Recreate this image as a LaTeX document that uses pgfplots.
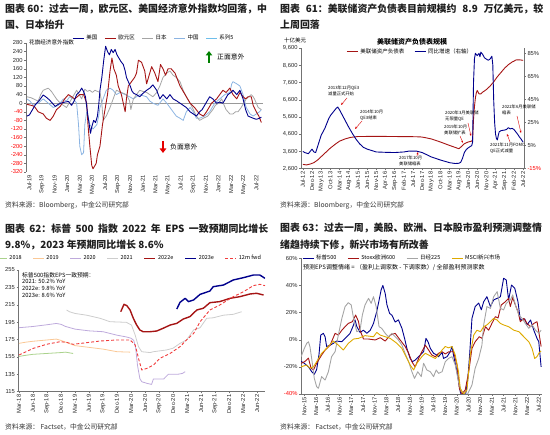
\documentclass[border=0pt]{standalone}
\usepackage{fontspec}
\setmainfont{Liberation Sans}
\newfontfamily\cjk{Noto Sans CJK SC}
\usepackage{pgfplots}
\pgfplotsset{compat=1.18}
\usetikzlibrary{arrows.meta}

\definecolor{cnavy}{RGB}{0,0,140}
\definecolor{cred}{RGB}{165,20,20}
\definecolor{cgray}{RGB}{165,165,165}
\definecolor{clblue}{RGB}{140,180,226}
\definecolor{csky}{RGB}{110,190,235}
\definecolor{c18}{RGB}{170,210,140}
\definecolor{c19}{RGB}{250,200,150}
\definecolor{c20}{RGB}{190,170,220}
\definecolor{c21}{RGB}{205,205,205}
\definecolor{cfwd}{RGB}{240,60,60}
\definecolor{cgold}{RGB}{222,170,0}
\definecolor{ctitle}{RGB}{30,30,30}

\pgfplotsset{
  base/.style={
    scale only axis, clip=true,
    axis line style={draw=black!55, line width=0.4pt},
    tick style={black!55, line width=0.4pt},
    major tick length=1.8pt,
    tick align=outside,
    tick label style={font=\fontsize{5.8}{6}\selectfont, text=black!85},
    xticklabel style={rotate=90, anchor=east, inner sep=1pt},
    yticklabel style={inner sep=1.5pt},
    /pgf/number format/assume math mode=true,
    axis x line*=bottom, axis y line*=left,
    legend style={draw=none, fill=none, font=\cjk\fontsize{5.5}{6}\selectfont, inner sep=0pt},
    legend image code/.code={\draw[##1] (0pt,0pt) -- (11pt,0pt);},
    legend cell align=left,
    every axis plot/.append style={line join=round},
  }
}

\begin{document}
\begin{tikzpicture}
\useasboundingbox (0pt,0pt) rectangle (550pt,435pt);

\begin{scope}[x=1pt,y=1pt]
% ---------------- titles ----------------
\begin{scope}[every node/.style={anchor=west, inner sep=0pt, text=ctitle, font=\cjk\bfseries\fontsize{9.9}{10}\selectfont}]
\node at (5,426.5) {图表 60：过去一周，欧元区、美国经济意外指数均回落，中};
\node at (5,410) {国、日本抬升};
\node at (280,426.5) {\makebox[263pt][s]{图表 61：美联储资产负债表目前规模约 8.9 万亿美元，较}};
\node at (280,410) {上周回落};
\node at (5,206.7) {\makebox[263pt][s]{图表 62：标普 500 指数 2022 年 EPS 一致预期同比增长}};
\node at (5,190) {9.8\%，2023 年预期同比增长 8.6\%};
\node at (280,206.7) {图表 63：过去一周，美股、欧洲、日本股市盈利预测调整情};
\node at (280,190) {绪趋持续下修，新兴市场有所改善};
\end{scope}
\begin{scope}[every node/.style={anchor=west, inner sep=0pt, text=black!80, font=\cjk\fontsize{6.8}{7}\selectfont}]
\node at (5,230) {资料来源：Bloomberg，中金公司研究部};
\node at (280,230) {资料来源：Bloomberg，中金公司研究部};
\node at (5,8) {资料来源： Factset，中金公司研究部};
\node at (280,8) {资料来源： Factset，中金公司研究部};
\end{scope}
\end{scope}

% ---------------- Panel 1 ----------------
\begin{axis}[base, at={(26pt,392pt)}, anchor=north west, width=237pt, height=129pt,
  xmin=-0.53, xmax=37.06, ymin=-320, ymax=280,
  x axis line style={draw=none}, xtick style={draw=none},
  ytick={-320,-280,...,280},
  yticklabels={\textcolor{red}{-320},\textcolor{red}{-280},\textcolor{red}{-240},\textcolor{red}{-200},\textcolor{red}{-160},\textcolor{red}{-120},\textcolor{red}{-80},\textcolor{red}{-40},0,40,80,120,160,200,240,280},
  xtick={0,2,...,36},
  xticklabels={Jul-19,Sep-19,Nov-19,Jan-20,Mar-20,May-20,Jul-20,Sep-20,Nov-20,Jan-21,Mar-21,May-21,Jul-21,Sep-21,Nov-21,Jan-22,Mar-22,May-22,Jul-22},
  legend columns=5, legend style={at={(0.54,1.039)}, anchor=center, /tikz/every even column/.append style={column sep=5pt}},
]
\addplot[black!40, line width=0.5pt, forget plot] coordinates {(-0.53,0) (37.06,0)};
\addplot[clblue, line width=0.8pt, forget plot] coordinates {(-0.4,20) (0.1,10) (0.6,-10) (1.4,0) (2.2,20) (3,0) (3.8,-20) (4.6,-10) (5.4,20) (5.9,10) (6.4,30) (7,20) (7.5,0) (7.8,-100) (8,-200) (8.3,-240) (8.6,-230) (8.8,-100) (9.1,-40) (9.3,-60) (9.6,-100) (10.1,-120) (10.7,-100) (11,-60) (11.2,-20) (11.7,20) (12.2,60) (12.8,70) (13.3,60) (13.8,40) (14.4,50) (15.2,40) (15.9,30) (16.5,20) (17,30) (17.5,40) (18,35) (18.6,30) (19.1,10) (19.6,0) (20.4,-10) (20.8,5) (21.2,20) (21.8,0) (22.3,-20) (22.8,-40) (23.3,-60) (23.9,-70) (24.4,-80) (24.9,-40) (25.5,-20) (26,-40) (26.5,-70) (27,-70) (27.8,-60) (28.6,-40) (29.4,0) (30.2,20) (31,40) (31.8,50) (32.1,90) (32.3,100) (32.6,95) (32.9,90) (33.4,80) (33.9,40) (34.4,-20) (35,-50) (35.5,-60) (36,-50) (36.5,-40) (36.8,-30)};
\addplot[cgray, line width=0.8pt, forget plot] coordinates {(-0.4,30) (0.3,25) (1,15) (1.4,10) (1.8,40) (2.2,60) (3,70) (3.5,55) (4.3,20) (4.9,0) (5.4,-10) (5.9,-20) (6.3,0) (6.7,20) (7.1,40) (7.5,60) (7.9,40) (8.3,20) (8.8,65) (9.2,55) (9.6,60) (10,50) (10.4,60) (10.8,55) (11.2,50) (11.5,0) (11.7,-80) (12.2,-60) (12.8,-20) (13.3,20) (13.8,60) (14.2,55) (14.6,50) (15,45) (15.4,40) (15.9,10) (16.1,-30) (16.5,20) (17,40) (17.5,60) (18,55) (18.6,50) (19.1,40) (19.6,30) (20.2,50) (20.7,80) (21.2,120) (21.8,140) (22.3,150) (22.8,130) (23.3,120) (23.9,100) (24.4,60) (24.9,30) (25.5,0) (26,-30) (26.5,-60) (27,-80) (27.6,-70) (28.3,-60) (29.1,-30) (29.5,-10) (30,0) (30.5,20) (30.9,-10) (31.2,-30) (31.8,-50) (32.3,-50) (32.7,-40) (33.1,-40) (33.6,-20) (34,0) (34.4,20) (34.8,30) (35.2,40) (35.5,30) (35.7,20) (36.3,-20) (36.8,-30)};
\addplot[cred, line width=0.9pt, forget plot] coordinates {(-0.4,-5) (0.3,-10) (0.8,-15) (1.4,-40) (2.2,-50) (2.7,-70) (3.3,-80) (3.8,-60) (4.3,-30) (4.9,-15) (5.6,20) (6.2,40) (6.7,30) (7.2,20) (8,40) (8.6,40) (9.1,0) (9.3,-100) (9.6,-200) (9.9,-290) (10.1,-305) (10.4,-290) (10.6,-280) (10.8,-240) (11.2,-200) (11.6,-100) (12,-30) (12.4,40) (12.8,150) (13.1,210) (13.4,160) (13.8,130) (14.1,80) (14.6,40) (14.9,0) (15.2,-40) (15.4,20) (15.7,80) (16.2,100) (16.7,120) (17,140) (17.3,200) (17.8,190) (18.3,150) (18.6,90) (18.9,120) (19.4,170) (19.9,140) (20.4,100) (20.8,180) (21.2,160) (21.6,130) (22,160) (22.5,160) (23.1,140) (23.5,110) (23.9,80) (24.3,60) (24.7,40) (25.1,20) (25.5,0) (26.2,-20) (27,-50) (27.6,-60) (28.1,-40) (28.5,-20) (28.9,0) (29.7,20) (30.2,40) (30.7,60) (31.2,50) (31.8,70) (32.3,40) (32.9,20) (33.4,50) (33.9,30) (34.3,20) (34.7,30) (35.2,30) (35.5,-10) (36,-40) (36.4,-60) (36.8,-90)};
\addplot[cnavy, line width=0.9pt, forget plot] coordinates {(-0.4,-60) (0,-55) (0.5,-30) (1,-5) (1.5,10) (2.2,38) (2.6,30) (3.2,15) (3.8,-5) (4.1,-15) (4.6,-5) (5,0) (5.6,5) (6.2,8) (6.7,-10) (7.1,10) (7.5,40) (8,55) (8.3,70) (8.6,55) (8.9,30) (9.2,-40) (9.5,-100) (9.7,-140) (9.9,-110) (10.2,-80) (10.5,-90) (10.8,-60) (11,-10) (11.2,60) (11.5,120) (11.8,200) (12.1,265) (12.4,240) (12.7,225) (13,250) (13.3,235) (13.6,250) (13.9,225) (14.2,210) (14.5,195) (14.9,180) (15.2,150) (15.4,120) (15.7,100) (16,80) (16.3,55) (16.6,45) (17,40) (17.5,30) (18,45) (18.6,60) (19.1,70) (19.6,85) (20.2,60) (20.7,20) (21.2,40) (21.8,20) (22.3,40) (22.8,20) (23.4,10) (23.9,0) (24.4,-10) (24.9,-20) (25.5,-40) (26,-50) (26.5,-60) (27,-40) (27.4,-30) (27.8,-10) (28.2,10) (28.6,30) (29.1,20) (29.7,0) (30.2,5) (30.7,0) (31.1,20) (31.5,40) (32,50) (32.3,60) (32.9,40) (33.4,60) (33.9,20) (34.3,-30) (34.7,-60) (35.1,-65) (35.5,-70) (36,-75) (36.5,-70) (36.8,-65)};
\addlegendimage{cnavy, line width=0.9pt}\addlegendentry{美国}
\addlegendimage{cred, line width=0.9pt}\addlegendentry{欧元区}
\addlegendimage{cgray, line width=0.9pt}\addlegendentry{日本}
\addlegendimage{clblue, line width=0.9pt}\addlegendentry{中国}
\addlegendimage{csky, line width=0.9pt}\addlegendentry{系列5}
\end{axis}

% ---------------- Panel 2 ----------------
\begin{axis}[base, at={(301pt,386.7pt)}, anchor=north west, width=223pt, height=120.4pt,
  xmin=-1, xmax=120.5, ymin=2600, ymax=9600,
  ytick={2600,3600,...,9600},
  yticklabels={{2,600},{3,600},{4,600},{5,600},{6,600},{7,600},{8,600},{9,600}},
  xtick={0,5,...,120},
  xticklabels={Jul-12,Dec-12,May-13,Oct-13,Mar-14,Aug-14,Jan-15,Jun-15,Nov-15,Apr-16,Sep-16,Feb-17,Jul-17,Dec-17,May-18,Oct-18,Mar-19,Aug-19,Jan-20,Jun-20,Nov-20,Apr-21,Sep-21,Feb-22,Jul-22},
]
\addplot[cred, line width=0.9pt] coordinates {(0,2850) (2,2820) (4,2870) (6,2950) (8,3100) (10,3300) (12,3500) (15,3800) (18,4050) (20,4200) (23,4330) (26,4420) (30,4470) (40,4480) (50,4470) (60,4460) (64,4450) (66,4420) (70,4330) (75,4150) (80,3950) (84,3800) (85,3760) (86,3850) (88,4050) (90,4150) (92,4200) (92.5,4300) (93,5500) (93.5,6200) (94,6700) (94.5,7000) (95,7150) (96,6950) (97,6950) (98,7050) (100,7200) (102,7400) (104,7650) (106,7950) (108,8200) (110,8450) (112,8650) (114,8800) (115,8850) (116,8920) (118,8930) (120,8900)};
\end{axis}
\begin{axis}[base, at={(301pt,386.7pt)}, anchor=north west, width=223pt, height=120.4pt,
  xmin=-1, xmax=120.5, ymin=-15, ymax=89.35,
  axis x line=none, axis y line*=right,
  ytick={-15,5,...,85},
  yticklabels={\textcolor{red}{-15\%},5\%,25\%,45\%,65\%,85\%},
  legend columns=2, legend style={at={(0.49,0.97)}, anchor=center, /tikz/every even column/.append style={column sep=8pt}},
]
\addlegendimage{cred, line width=0.9pt}\addlegendentry{美联储资产负债表}
\addplot[cnavy, line width=0.9pt] coordinates {(0,0) (1,-1) (2,-1.5) (3,-2) (4,0) (5,2) (6,-0.5) (7,-1) (8,4) (9,9) (10,14) (11,17) (12,20) (13,24) (14,28) (15,31) (16,33) (17,35) (18,37) (19,38.5) (20,36) (21,33) (23,27) (25,21) (27,15.5) (29,10.5) (31,6.5) (33,3.5) (35,2) (38,0.5) (40,-0.5) (45,-0.8) (50,-1) (55,-0.5) (58,0.3) (62,0.2) (65,-1) (67,-2.5) (70,-4.8) (75,-7.5) (80,-9.8) (83,-10.5) (85,-10.3) (86,-9.5) (87,-6) (88,-1) (89,1.5) (90,3) (91,4) (92,5) (92.5,8) (93,60) (93.5,80) (94,85) (95,83) (96,85) (96.5,82) (97,86) (98,84) (99,81) (100,80) (101,79) (102,80) (103,82.5) (103.5,75) (104,44) (104.5,25) (105,15) (105.5,11) (106,10) (106.5,14) (107,17) (108,18) (110,18.5) (111,19) (112,20.5) (113,19.5) (114,20) (115,19) (116,17) (117,15) (118,12.5) (119,10.5) (120,8)};
\addlegendentry{同比增速（右轴）}
\end{axis}

% ---------------- Panel 3 ----------------
\begin{axis}[base, at={(18.3pt,165pt)}, anchor=north west, width=246.7pt, height=121.7pt,
  xmin=-0.14, xmax=52.7, ymin=115, ymax=255,
  ytick={115,135,...,255},
  xtick={0,3,...,51},
  xticklabels={Mar-18,Jun-18,Sep-18,Dec-18,Mar-19,Jun-19,Sep-19,Dec-19,Mar-20,Jun-20,Sep-20,Dec-20,Mar-21,Jun-21,Sep-21,Dec-21,Mar-22,Jun-22},
  legend columns=7, legend style={at={(0.45,1.096)}, anchor=center, /tikz/every even column/.append style={column sep=9pt}},
]
\addplot[c18, line width=0.8pt] coordinates {(0,155.5) (1,156.5) (3,158) (6,159) (9,160) (10,160.5) (11,159.5) (11.6,159)};
\addlegendentry{2018}
\addplot[c19, line width=0.8pt] coordinates {(0,170.6) (1.5,172) (3,173) (5,174) (7,175) (8,175.5) (9,174) (10,172) (12,168) (15,166) (18,164) (21,161) (23.8,160.5)};
\addlegendentry{2019}
\addplot[c20, line width=0.8pt] coordinates {(0,188.6) (3,190) (6,192) (8,193.5) (9,192.5) (10,190) (12,187) (15,185) (18,184) (21,180) (23,178) (24,176.5) (24.6,174) (25,165) (25.4,145) (25.9,130) (26.3,126.5) (27.4,124.6) (28.4,123.4) (28.8,129.6) (30,129.6) (31,129.6) (32,135) (34,135) (35,136) (35.6,138)};
\addlegendentry{2020}
\addplot[c21, line width=0.8pt] coordinates {(10.2,209) (10.8,207) (12,205) (14.5,203) (17.4,199.4) (19.5,195.5) (23,194.8) (24.1,191.7) (24.9,180) (25.6,166.8) (26.3,161) (28.1,160) (28.8,161) (30.2,162) (31.6,163) (33,165) (34.5,170.6) (35.9,174.5) (37.4,186) (38.8,188.6) (40.2,199.4) (41.6,200) (43.8,203) (45.9,204) (47.7,207)};
\addlegendentry{2021}
\addplot[cred, line width=1.4pt] coordinates {(21.8,207) (22.5,215.5) (23.1,214) (23.8,209) (24.5,199.4) (25.2,191.7) (25.9,186) (26.6,184) (28.1,184) (29.5,184.8) (30.9,188) (32.4,191.7) (33.8,193.6) (35.2,198.6) (36.6,201.3) (38.1,209) (39.5,211) (40.9,217.4) (43,218.6) (45.2,222.4) (47.3,224.3) (49.5,227.4) (50.9,228.2) (52.4,226.2)};
\addlegendentry{2022e}
\addplot[cnavy, line width=1.4pt] coordinates {(33.8,210) (34.5,217.8) (35.6,222.4) (36.3,218.6) (37.4,220.5) (38.8,227) (40.9,230.8) (41.6,235.8) (43.8,237.7) (45.9,243.5) (48.1,246.2) (50.2,249.2) (51.6,249.2) (52.7,245.4)};
\addlegendentry{2023e}
\addplot[cfwd, line width=0.9pt, densely dashed] coordinates {(0,157.2) (3.1,164.9) (5.9,169.5) (8.8,172.5) (10.2,171.8) (11.6,169.5) (14.5,171.4) (17.4,173.3) (20.9,174.5) (23.8,174.5) (24.9,168.7) (25.6,153.4) (26.3,140) (27.4,141.8) (28.8,145.7) (30.2,153.4) (32.4,159.1) (34.5,166.8) (35.9,174.5) (37.4,182) (38.8,195.5) (40.9,209) (43,214.7) (45.9,224.3) (48.1,230) (50.2,237) (51.6,238.5) (52.7,237)};
\addlegendentry{12m fwd}
\end{axis}

% ---------------- Panel 4 ----------------
\begin{axis}[base, at={(301pt,176.7pt)}, anchor=north west, width=241pt, height=135.7pt,
  xmin=-1.14, xmax=81.1, ymin=-40, ymax=60,
  ytick={-40,-20,...,60},
  yticklabels={\textcolor{red}{-40\%},-20\%,0\%,20\%,40\%,60\%},
  xtick={0,4,...,80},
  xticklabels={Nov-15,Mar-16,Jul-16,Nov-16,Mar-17,Jul-17,Nov-17,Mar-18,Jul-18,Nov-18,Mar-19,Jul-19,Nov-19,Mar-20,Jul-20,Nov-20,Mar-21,Jul-21,Nov-21,Mar-22,Jul-22},
  legend columns=4, legend style={at={(0.42,1.0)}, anchor=center, /tikz/every even column/.append style={column sep=9pt}},
]
\addplot[cnavy, line width=0.9pt] coordinates {(-1.1,-16) (0,-17.4) (1.4,-20) (2.5,-23.5) (3.4,-25.5) (4.2,-22) (5,-11) (5.6,3.4) (6.5,4.7) (7.1,2) (7.6,-5) (8.8,-4) (9.9,-2.7) (11,-1) (12.8,-1.5) (13.9,1) (15.6,4.7) (16.8,10.9) (17.3,14.6) (17.9,9.7) (19,5.4) (20.2,7) (21.3,4.7) (22.5,7) (23.6,12) (24.7,20.7) (25.5,29) (26.2,36.7) (26.8,40) (27.6,34) (28.2,25.6) (29.1,19.4) (29.9,18) (31,13) (32.1,14.6) (33.3,8.4) (34.2,1) (35,-6.4) (36.1,-13.8) (36.9,-16.2) (37.8,-15) (39,-12.5) (40.7,-8.8) (41.5,1) (42.2,-1.5) (43,-6.4) (44.1,-10) (45.2,-11.3) (45.8,-12.5) (47,-9.3) (47.5,-13.8) (48.7,-12.5) (49.8,-8.8) (50.4,-5) (50.9,-11.3) (52.1,-23.6) (53.2,-38.3) (53.8,-42) (55,-41) (55.8,-28.5) (56.4,-11.3) (57.2,15.7) (58.3,24.4) (59.5,27) (60.4,22) (61.2,28) (62.3,31.7) (63.5,24.4) (64.6,29.3) (65.8,30.5) (66.9,31.7) (67.5,39) (68,45.3) (68.9,44) (69.7,29.3) (70.7,40.3) (71.8,38) (72.9,28) (73.7,14.5) (75.2,15.3) (76,11) (77.2,14.5) (78.3,7) (79.4,1) (80,-1.5) (80.8,-20)};
\addlegendentry{标普500}
\addplot[cred, line width=0.9pt] coordinates {(-1.1,-17.4) (0.2,-16) (1.4,-13.6) (2.3,-21) (3.1,-22.3) (4.2,-17.4) (5.9,-11.3) (7.1,-7.6) (8.8,-4) (10.5,4.7) (11.6,3.4) (12.8,7) (13.9,9.6) (15,12) (16.4,13.3) (17.5,18.2) (18.5,13.3) (19,7) (20.2,0.5) (21.9,0.5) (24.2,-0.2) (25.9,1.5) (27.6,-1) (29.3,3.4) (31,4.7) (32.7,-0.2) (34.4,-5) (35.6,-10) (36.7,-16.2) (37.8,-20) (39,-13.8) (40.1,-8.8) (41.3,-4) (42.4,-7.6) (43.5,-11.3) (44.7,-12.5) (45.8,-10) (47,-8.8) (48.1,-10.5) (49.2,-9) (50.9,-8.8) (52.1,-18.6) (52.9,-35.9) (53.8,-40) (54.9,-37) (56.1,-23.6) (57.2,-6.4) (58.3,-1.5) (59.7,2.2) (60.6,1) (61.8,9.6) (62.9,7) (64,12) (65.2,17) (66.1,16) (67.2,25.6) (68.6,28) (69.7,30.5) (70.3,24.4) (71.1,31) (72,25.6) (72.9,20.7) (73.7,13.3) (74.9,15.7) (76,12) (77.2,9.6) (78.3,12) (79.4,13.3) (80,5.9) (80.8,-5)};
\addlegendentry{Stoxx欧洲600}
\addplot[cgray, line width=0.9pt] coordinates {(-1.1,-12.5) (0,-6.4) (0.8,-2.7) (1.4,-1.5) (1.9,-5) (2.5,-13.8) (3.4,-28.5) (4.2,-34.6) (4.8,-35.8) (5.9,-27.2) (7.1,-29.7) (8.2,-23.6) (9.3,-12.5) (10.5,-8.8) (11.6,3.4) (12.8,15.7) (13.9,24.4) (15,27.3) (16,25.6) (16.8,15.7) (17.9,5.9) (19,7) (19.8,18.2) (20.7,25.6) (21.9,30.5) (22.8,26.8) (23.6,31.7) (24.5,24.4) (25.5,9.6) (26.4,8.4) (27.6,4.7) (28.7,2.2) (29.9,4.7) (31,2.2) (32.1,-0.2) (33.3,-4) (34.6,-11.3) (35.6,-16.2) (36.7,-23.6) (37.6,-28.5) (38.7,-23.6) (39.9,-27.2) (40.7,-17.4) (41.8,-22.3) (43,-23.6) (44.1,-27.2) (45,-22.3) (45.8,-24.8) (47,-23.6) (48.1,-16.2) (49.2,-13.8) (50.4,-12.5) (51.5,-18.6) (52.6,-31) (53.6,-38.3) (55.5,-41) (57.2,-33.4) (58.3,-21) (59.5,-13.8) (60.6,-4) (61.2,10.9) (62.3,24.4) (63.5,23.1) (64.6,31.7) (65.8,35.4) (66.9,23.1) (68,22) (68.9,26.8) (70.3,29.3) (71.1,33) (72.2,24.4) (73.2,18.2) (74.3,15.7) (75.4,12) (76.6,8.4) (77.7,10.9) (78.9,7) (80,4.7) (80.8,7)};
\addlegendentry{日经225}
\addplot[cgold, line width=0.9pt] coordinates {(-1.1,-20) (0.8,-18.6) (1.9,-21) (3.1,-20) (4.2,-16.2) (5.9,-10) (8.2,-5) (9.9,-1) (11.6,-4) (13.3,-7.6) (15,-2.7) (16.8,0.5) (18.5,1) (20.7,3) (23.6,2.2) (24.7,5.4) (25.9,3.4) (27.6,2.2) (29.3,1) (31.6,-2.7) (33.3,-6.4) (35,-13.8) (36.1,-18.6) (37.3,-22.3) (38.4,-17.4) (40.1,-12.5) (41.3,-10) (42.4,-11.3) (43.5,-12.5) (44.7,-13.8) (45.8,-11.3) (47,-7.6) (48.1,-5) (49.2,-6) (50.4,-5) (51.5,-11.3) (52.6,-23.6) (53.2,-35.9) (54.4,-40) (55.5,-37) (56.6,-11.3) (57.8,3.4) (58.9,7) (60.1,5.9) (61.2,9.6) (62.3,10.9) (63.5,13.3) (64.6,15.7) (65.8,14.5) (66.9,12) (68,10.9) (69.7,9.6) (71.5,7) (73.2,5.9) (74.9,2.2) (76.6,-1.5) (77.7,-6.4) (78.6,-13.8) (79.4,-12.5) (80,-10) (80.8,-8.3)};
\addlegendentry{MSCI新兴市场}
\end{axis}

% ---------------- annotations ----------------
\begin{scope}[x=1pt,y=1pt]
\node[anchor=west, inner sep=0, font=\cjk\fontsize{5.6}{6}\selectfont] at (29,393) {花旗经济意外指数};
\draw[line width=2.6pt, -{Triangle[width=6.5pt,length=4.5pt]}, green!50!black] (209,372) -- (209,384);
\node[anchor=west, inner sep=0, font=\cjk\fontsize{6.8}{7}\selectfont] at (217,378) {正面意外};
\draw[line width=2.6pt, -{Triangle[width=6.5pt,length=4.5pt]}, red!90!black] (163,294) -- (163,282);
\node[anchor=west, inner sep=0, font=\cjk\fontsize{6.8}{7}\selectfont] at (170,288.5) {负面意外};

\node[inner sep=0, font=\cjk\bfseries\fontsize{7}{7}\selectfont] at (412,393.3) {美联储资产负债表规模};
\node[anchor=west, inner sep=0, font=\cjk\fontsize{5.5}{6}\selectfont] at (284,395) {十亿美元};
\begin{scope}[every node/.style={anchor=west, inner sep=0pt, align=left, font=\cjk\fontsize{4.3}{6}\selectfont},
  arr/.style={red!85!black, line width=0.4pt, -{Stealth[length=2.5pt,width=2pt]}}]
\node at (328,344.5) {2013年12月QE3\\减量正式开始};
\draw[arr] (347,337) -- (341,330);
\node at (360,320) {2014年10月\\QE3结束};
\draw[arr] (362,314) -- (355,306);
\node at (399,274) {2017年10月\\美联储缩表};
\draw[arr] (417,279) -- (418,283);
\node at (444,305) {2019年10月\\美联储扩表};
\draw[arr] (460,299) -- (463,292);
\node at (445,318.5) {2020年3月美联储\\无限量QE};
\draw[arr] (468,312) -- (471,299);
\node at (502,325) {2022年6月美联储\\缩表};
\draw[arr] (517,319) -- (521,302);
\node at (490,287) {2021年11月FOMC\\QE正式减量};
\draw[arr] (510,293) -- (507,301);
\end{scope}

\begin{scope}[every node/.style={anchor=west, inner sep=0pt, font=\cjk\fontsize{5.8}{6}\selectfont}]
\node at (22,160) {标普500指数EPS一致预期：};
\node at (22,153.3) {2021: 50.2\% YoY};
\node at (22,146.3) {2022e: 9.8\% YoY};
\node at (22,139.3) {2023e: 8.6\% YoY};
\end{scope}
\node[anchor=west, inner sep=0, font=\cjk\fontsize{6}{6}\selectfont] at (303,167.7) {预测EPS调整情绪 = （盈利上调家数 - 下调家数）/ 全部盈利预测家数};
\end{scope}

\end{tikzpicture}
\end{document}
